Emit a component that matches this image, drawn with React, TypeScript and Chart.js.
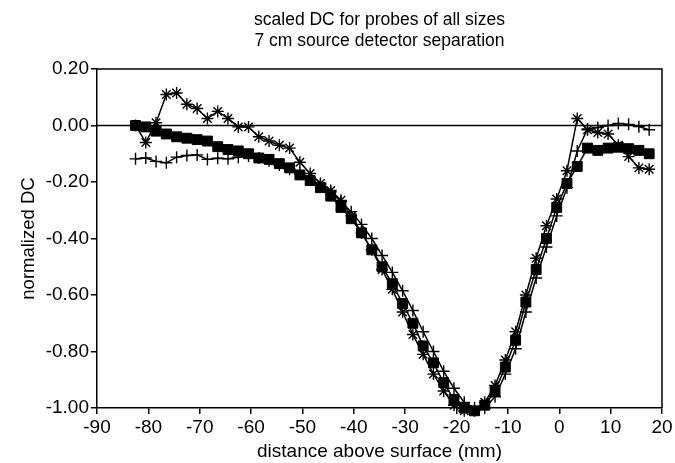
import React, { useEffect, useRef } from "react";
import { Chart, registerables } from "chart.js";

Chart.register(...registerables);

// distance above surface (mm) for every measurement
const positions = [
  -82.5, -80.5, -78.5, -76.5, -74.5, -72.5, -70.5, -68.5, -66.5, -64.5,
  -62.5, -60.5, -58.5, -56.5, -54.5, -52.5, -50.5, -48.5, -46.5, -44.5,
  -42.5, -40.5, -38.5, -36.5, -34.5, -32.5, -30.5, -28.5, -26.5, -24.5,
  -22.5, -20.5, -18.5, -16.5, -14.5, -12.5, -10.5, -8.5, -6.5, -4.5,
  -2.5, -0.5, 1.5, 3.5, 5.5, 7.5, 9.5, 11.5, 13.5, 15.5, 17.5,
];

// filled squares
const squareValues = [
  0.0, -0.005, -0.02, -0.03, -0.04, -0.045, -0.05, -0.055, -0.075, -0.085,
  -0.09, -0.1, -0.115, -0.12, -0.135, -0.15, -0.175, -0.195, -0.22, -0.25,
  -0.29, -0.33, -0.38, -0.44, -0.5, -0.56, -0.63, -0.7, -0.78, -0.84,
  -0.91, -0.97, -1.0, -1.01, -0.99, -0.94, -0.855, -0.76, -0.625, -0.51,
  -0.4, -0.29, -0.205, -0.145, -0.08, -0.088, -0.08, -0.077, -0.082, -0.088,
  -0.1,
];

// asterisks
const starValues = [
  0.0, -0.06, 0.01, 0.11, 0.115, 0.075, 0.06, 0.025, 0.05, 0.025,
  -0.005, -0.005, -0.04, -0.055, -0.07, -0.08, -0.13, -0.17, -0.205, -0.23,
  -0.265, -0.32, -0.38, -0.44, -0.51, -0.58, -0.66, -0.74, -0.81, -0.88,
  -0.94, -0.99, -1.01, -1.01, -0.98, -0.92, -0.83, -0.73, -0.6, -0.47,
  -0.355, -0.26, -0.16, 0.025, -0.015, -0.025, -0.03, -0.07, -0.11, -0.15,
  -0.155,
];

// plus signs
const plusValues = [
  -0.118, -0.115, -0.127, -0.132, -0.112, -0.106, -0.104, -0.12, -0.116, -0.118,
  -0.112, -0.108, -0.115, -0.125, -0.14, -0.155, -0.17, -0.19, -0.21, -0.235,
  -0.27, -0.305, -0.35, -0.4, -0.46, -0.52, -0.585, -0.655, -0.73, -0.8,
  -0.87, -0.93, -0.98, -1.0, -1.0, -0.96, -0.88, -0.79, -0.66, -0.54,
  -0.43, -0.32, -0.22, -0.09, -0.012, -0.007, 0.0, 0.007, 0.004, -0.004,
  -0.015,
];

const titleLines = ["scaled DC for probes of all sizes", "7 cm source detector separation"];
const xTitle = "distance above surface (mm)";
const yTitle = "normalized DC";
const xMin = -90;
const xMax = 20;
const xStep = 10;
const yMin = -1.0;
const yMax = 0.2;
const yStep = 0.2;

const FONT = "'Liberation Sans', Arial, Helvetica, sans-serif";

const toPoints = (vals: number[]) => positions.map((x, i) => ({ x, y: vals[i] }));

const framePlugin = {
  id: "frameAndZero",
  beforeDatasetsDraw(chart: any) {
    const { ctx, chartArea, scales } = chart;
    const { left, right, top, bottom } = chartArea;
    const y0 = scales.y.getPixelForValue(0);
    ctx.save();
    ctx.strokeStyle = "#000";
    ctx.lineWidth = 1.5;
    ctx.beginPath();
    ctx.moveTo(left, y0);
    ctx.lineTo(right, y0);
    ctx.stroke();
    ctx.beginPath();
    ctx.moveTo(left, top);
    ctx.lineTo(right, top);
    ctx.lineTo(right, bottom);
    ctx.stroke();
    ctx.restore();
  },
  afterDraw(chart: any) {
    const { ctx, chartArea } = chart;
    const cx = (chartArea.left + chartArea.right) / 2;
    ctx.save();
    ctx.fillStyle = "#000";
    ctx.font = `17.5px ${FONT}`;
    ctx.textAlign = "center";
    ctx.textBaseline = "middle";
    titleLines.forEach((line, i) => {
      ctx.fillText(line, cx, chartArea.top - 49 + i * 21);
    });
    ctx.restore();
  },
};

export default function App() {
  const ref = useRef<HTMLCanvasElement | null>(null);

  useEffect(() => {
    if (!ref.current) return;
    const common = {
      borderColor: "#000",
      backgroundColor: "#000",
      pointBorderColor: "#000",
      pointBackgroundColor: "#000",
      borderWidth: 1.5,
      tension: 0,
      clip: false as any,
    };
    const chart = new Chart(ref.current, {
      type: "line",
      data: {
        datasets: [
          {
            ...common,
            label: "plus",
            data: toPoints(plusValues),
            pointStyle: "cross",
            pointRadius: 6,
            pointBorderWidth: 1.4,
          },
          {
            ...common,
            label: "star",
            data: toPoints(starValues),
            pointStyle: "star",
            pointRadius: 6,
            pointBorderWidth: 1.4,
          },
          {
            ...common,
            label: "square",
            data: toPoints(squareValues),
            pointStyle: "rect",
            pointRadius: 7,
            pointBorderWidth: 1,
          },
        ],
      },
      options: {
        responsive: false,
        animation: false,
        devicePixelRatio: 1,
        layout: { padding: { left: 18, right: 13, top: 69, bottom: 0 } },
        plugins: {
          legend: { display: false },
          tooltip: { enabled: false },
          title: { display: false },
        },
        scales: {
          x: {
            type: "linear",
            min: xMin,
            max: xMax,
            ticks: {
              stepSize: xStep,
              color: "#000",
              font: { family: FONT, size: 19 },
              padding: 2,
              maxRotation: 0,
            },
            grid: {
              drawOnChartArea: false,
              drawTicks: true,
              tickLength: 6,
              color: "#000",
              lineWidth: 1.5,
            },
            border: { display: true, color: "#000", width: 1.5 },
            title: {
              display: true,
              text: xTitle,
              color: "#000",
              font: { family: FONT, size: 19 },
              padding: { top: 1, bottom: 0 },
            },
            afterFit: (scale: any) => {
              scale.height = 55;
            },
          },
          y: {
            type: "linear",
            min: yMin,
            max: yMax,
            ticks: {
              stepSize: yStep,
              color: "#000",
              font: { family: FONT, size: 19 },
              padding: 2,
              callback: (v: any) => {
                const n = Number(v);
                return (Math.abs(n) < 1e-9 ? 0 : n).toFixed(2);
              },
            },
            grid: {
              drawOnChartArea: false,
              drawTicks: true,
              tickLength: 6,
              color: "#000",
              lineWidth: 1.5,
            },
            border: { display: true, color: "#000", width: 1.5 },
            title: {
              display: true,
              text: yTitle,
              color: "#000",
              font: { family: FONT, size: 18.5 },
              padding: { top: 0, bottom: 0 },
            },
            afterFit: (scale: any) => {
              scale.width = 79;
            },
          },
        },
      },
      plugins: [framePlugin],
    });
    return () => chart.destroy();
  }, []);

  return (
    <canvas
      ref={ref}
      width={675}
      height={463}
      style={{ position: "absolute", left: 0, top: 0, display: "block", background: "#fff" }}
    />
  );
}
